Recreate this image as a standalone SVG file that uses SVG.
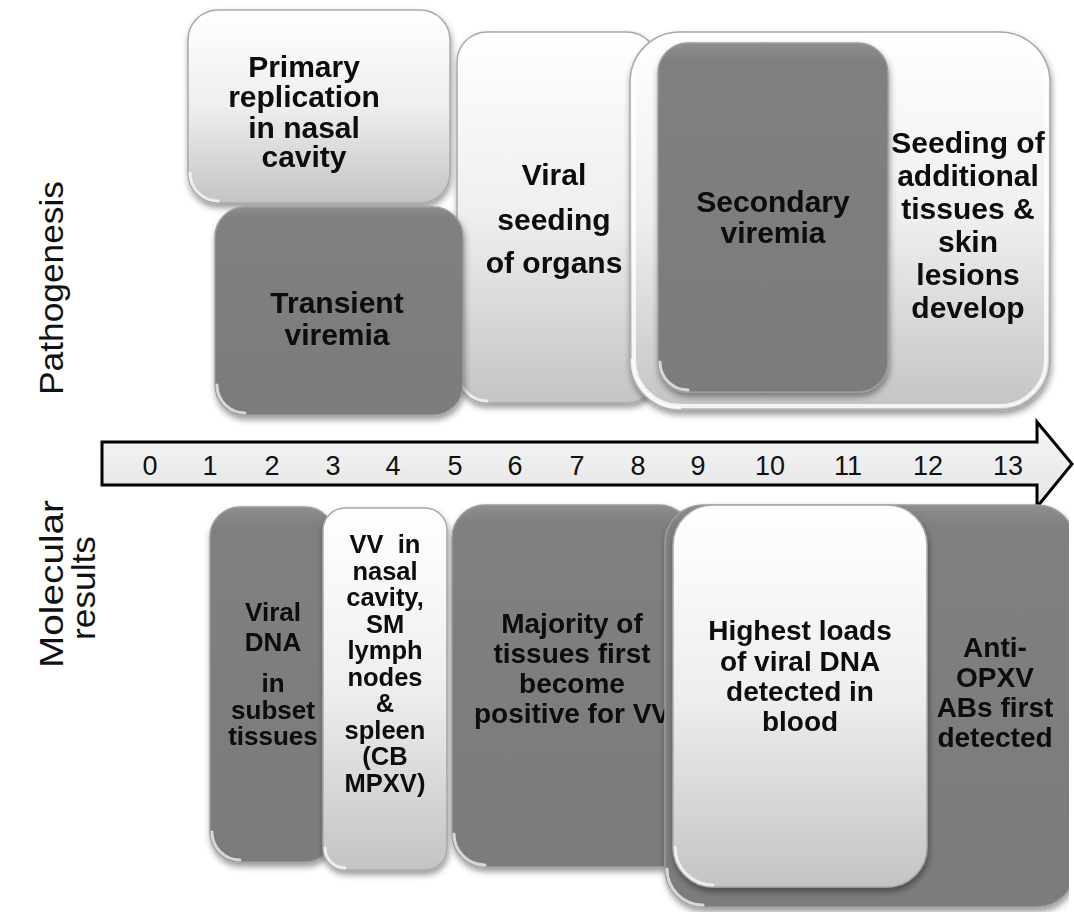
<svg xmlns="http://www.w3.org/2000/svg" width="1074" height="912" viewBox="0 0 1074 912">
<defs>
  <linearGradient id="gLight" x1="0" y1="0" x2="0" y2="1">
    <stop offset="0" stop-color="#ffffff"/>
    <stop offset="0.5" stop-color="#eeeeee"/>
    <stop offset="1" stop-color="#c4c4c4"/>
  </linearGradient>
  <linearGradient id="gDark" x1="0" y1="0" x2="0" y2="1">
    <stop offset="0" stop-color="#8e8e8e"/>
    <stop offset="0.05" stop-color="#808080"/>
    <stop offset="1" stop-color="#7b7b7b"/>
  </linearGradient>
  <linearGradient id="gArrow" x1="0" y1="0" x2="0" y2="1">
    <stop offset="0" stop-color="#f6f6f6"/>
    <stop offset="1" stop-color="#e4e4e4"/>
  </linearGradient>
  <filter id="sh" x="-10%" y="-10%" width="125%" height="125%">
    <feDropShadow dx="1" dy="4" stdDeviation="3" flood-color="#000" flood-opacity="0.4"/>
  </filter>
  <clipPath id="clipR"><rect x="0" y="0" width="1069" height="912"/></clipPath>
</defs>
<style>
  .light{fill:url(#gLight);stroke:#a8a8a8;stroke-width:1.5}
  .dark{fill:url(#gDark);stroke:#9c9c9c;stroke-width:1.5}
  .rim{fill:none;stroke:#ffffff;stroke-width:4;opacity:.8}
  .gloss{fill:none;stroke:#ffffff;stroke-width:3;stroke-linecap:round;opacity:.7}
  .t30{font-family:"Liberation Sans",Arial,sans-serif;font-weight:bold;font-size:30px;text-anchor:middle;fill:#0a0a0a}
  .t28{font-family:"Liberation Sans",Arial,sans-serif;font-weight:bold;font-size:28px;text-anchor:middle;fill:#0a0a0a}
  .t26{font-family:"Liberation Sans",Arial,sans-serif;font-weight:bold;font-size:26px;text-anchor:middle;fill:#0a0a0a}
  .t25{font-family:"Liberation Sans",Arial,sans-serif;font-weight:bold;font-size:25.5px;text-anchor:middle;fill:#0a0a0a}
  .num{font-family:"Liberation Sans",Arial,sans-serif;font-size:27px;text-anchor:middle;fill:#111}
  .side{font-family:"Liberation Sans",Arial,sans-serif;font-size:34px;text-anchor:middle;fill:#111}
</style>
<rect x="0" y="0" width="1074" height="912" fill="#ffffff"/>

<!-- side labels -->
<g id="label-pathogenesis">
  <text class="side" transform="translate(63,288) rotate(-90)" textLength="214" lengthAdjust="spacingAndGlyphs">Pathogenesis</text>
</g>
<g id="label-molecular">
  <text class="side" transform="translate(63,584) rotate(-90)" textLength="168" lengthAdjust="spacingAndGlyphs">Molecular</text>
  <text class="side" transform="translate(95,588) rotate(-90)" textLength="104" lengthAdjust="spacingAndGlyphs">results</text>
</g>

<!-- top row -->
<g id="node-primary" filter="url(#sh)">
  <rect class="light" x="188" y="10" width="262" height="193" rx="30"/>
  <path class="gloss" d="M190,173 A28,28 0 0 0 218,201"/>
  <text class="t30" x="304" y="77">Primary</text>
  <text class="t30" x="304" y="107">replication</text>
  <text class="t30" x="304" y="138">in nasal</text>
  <text class="t30" x="304" y="167">cavity</text>
</g>
<g id="node-seeding" filter="url(#sh)">
  <rect class="light" x="457" y="32" width="200" height="371" rx="30"/>
  <path class="gloss" d="M459,373 A28,28 0 0 0 487,401"/>
  <text class="t30" x="554" y="185">Viral</text>
  <text class="t30" x="554" y="230">seeding</text>
  <text class="t30" x="554" y="273">of organs</text>
</g>
<g id="node-transient" filter="url(#sh)">
  <rect class="dark" x="215" y="207" width="248" height="208" rx="30"/>
  <path class="gloss" d="M217,385 A28,28 0 0 0 245,413"/>
  <text class="t30" x="337" y="313">Transient</text>
  <text class="t30" x="337" y="345">viremia</text>
</g>
<g id="node-additional" filter="url(#sh)">
  <rect class="light" x="630" y="32" width="420" height="378" rx="50"/>
  <rect class="rim" x="634" y="36" width="412" height="370" rx="46"/>
  <path class="gloss" d="M632,360 A48,48 0 0 0 680,408"/>
  <text class="t30" x="968" y="153">Seeding of</text>
  <text class="t30" x="968" y="186">additional</text>
  <text class="t30" x="968" y="219">tissues &amp;</text>
  <text class="t30" x="968" y="252">skin</text>
  <text class="t30" x="968" y="285">lesions</text>
  <text class="t30" x="968" y="318">develop</text>
</g>
<g id="node-secondary" filter="url(#sh)">
  <rect class="dark" x="658" y="43" width="230" height="349" rx="30"/>
  <path class="gloss" d="M660,362 A28,28 0 0 0 688,390"/>
  <text class="t30" x="773" y="212">Secondary</text>
  <text class="t30" x="773" y="243">viremia</text>
</g>

<!-- timeline arrow -->
<g id="timeline">
  <path d="M102,442 L1037,442 L1037,422 L1072,464 L1037,507 L1037,485 L102,485 Z" fill="url(#gArrow)" stroke="#000" stroke-width="3" stroke-linejoin="miter"/>
  <text class="num" x="150" y="475">0</text>
  <text class="num" x="210" y="475">1</text>
  <text class="num" x="272" y="475">2</text>
  <text class="num" x="333" y="475">3</text>
  <text class="num" x="393" y="475">4</text>
  <text class="num" x="455" y="475">5</text>
  <text class="num" x="515" y="475">6</text>
  <text class="num" x="577" y="475">7</text>
  <text class="num" x="638" y="475">8</text>
  <text class="num" x="698" y="475">9</text>
  <text class="num" x="770" y="475">10</text>
  <text class="num" x="848" y="475">11</text>
  <text class="num" x="928" y="475">12</text>
  <text class="num" x="1008" y="475">13</text>
</g>

<!-- bottom row -->
<g id="node-viral-dna" filter="url(#sh)">
  <rect class="dark" x="210" y="507" width="125" height="355" rx="30"/>
  <path class="gloss" d="M212,832 A28,28 0 0 0 240,860"/>
  <text class="t26" x="273" y="621">Viral</text>
  <text class="t26" x="273" y="651">DNA</text>
  <text class="t26" x="273" y="692">in</text>
  <text class="t26" x="273" y="719">subset</text>
  <text class="t26" x="273" y="745">tissues</text>
</g>
<g id="node-vv-nasal" filter="url(#sh)">
  <rect class="light" x="323" y="508" width="124" height="362" rx="22"/>
  <path class="gloss" d="M325,848 A20,20 0 0 0 345,868"/>
  <text class="t25" x="385" y="553" xml:space="preserve">VV  in</text>
  <text class="t25" x="385" y="579.5">nasal</text>
  <text class="t25" x="385" y="606">cavity,</text>
  <text class="t25" x="385" y="632.5">SM</text>
  <text class="t25" x="385" y="659">lymph</text>
  <text class="t25" x="385" y="685.5">nodes</text>
  <text class="t25" x="385" y="712">&amp;</text>
  <text class="t25" x="385" y="738.5">spleen</text>
  <text class="t25" x="385" y="765">(CB</text>
  <text class="t25" x="385" y="791.5">MPXV)</text>
</g>
<g id="node-majority" filter="url(#sh)">
  <rect class="dark" x="452" y="505" width="240" height="362" rx="33"/>
  <path class="gloss" d="M454,834 A31,31 0 0 0 485,865"/>
  <text class="t28" x="572" y="633">Majority of</text>
  <text class="t28" x="572" y="663">tissues first</text>
  <text class="t28" x="572" y="693">become</text>
  <text class="t28" x="572" y="723">positive for VV</text>
</g>
<g id="node-anti-opxv" filter="url(#sh)" clip-path="url(#clipR)">
  <rect class="dark" x="665" y="505" width="410" height="402" rx="38"/>
  <path class="gloss" d="M667,869 A36,36 0 0 0 703,905"/>
  <text class="t28" x="995" y="657">Anti-</text>
  <text class="t28" x="995" y="687">OPXV</text>
  <text class="t28" x="995" y="717">ABs first</text>
  <text class="t28" x="995" y="747">detected</text>
</g>
<g id="node-highest" filter="url(#sh)">
  <rect class="light" x="673" y="505" width="254" height="382" rx="40"/>
  <path class="gloss" d="M675,847 A38,38 0 0 0 713,885"/>
  <text class="t28" x="800" y="640">Highest loads</text>
  <text class="t28" x="800" y="671">of viral DNA</text>
  <text class="t28" x="800" y="701">detected in</text>
  <text class="t28" x="800" y="731">blood</text>
</g>
</svg>
